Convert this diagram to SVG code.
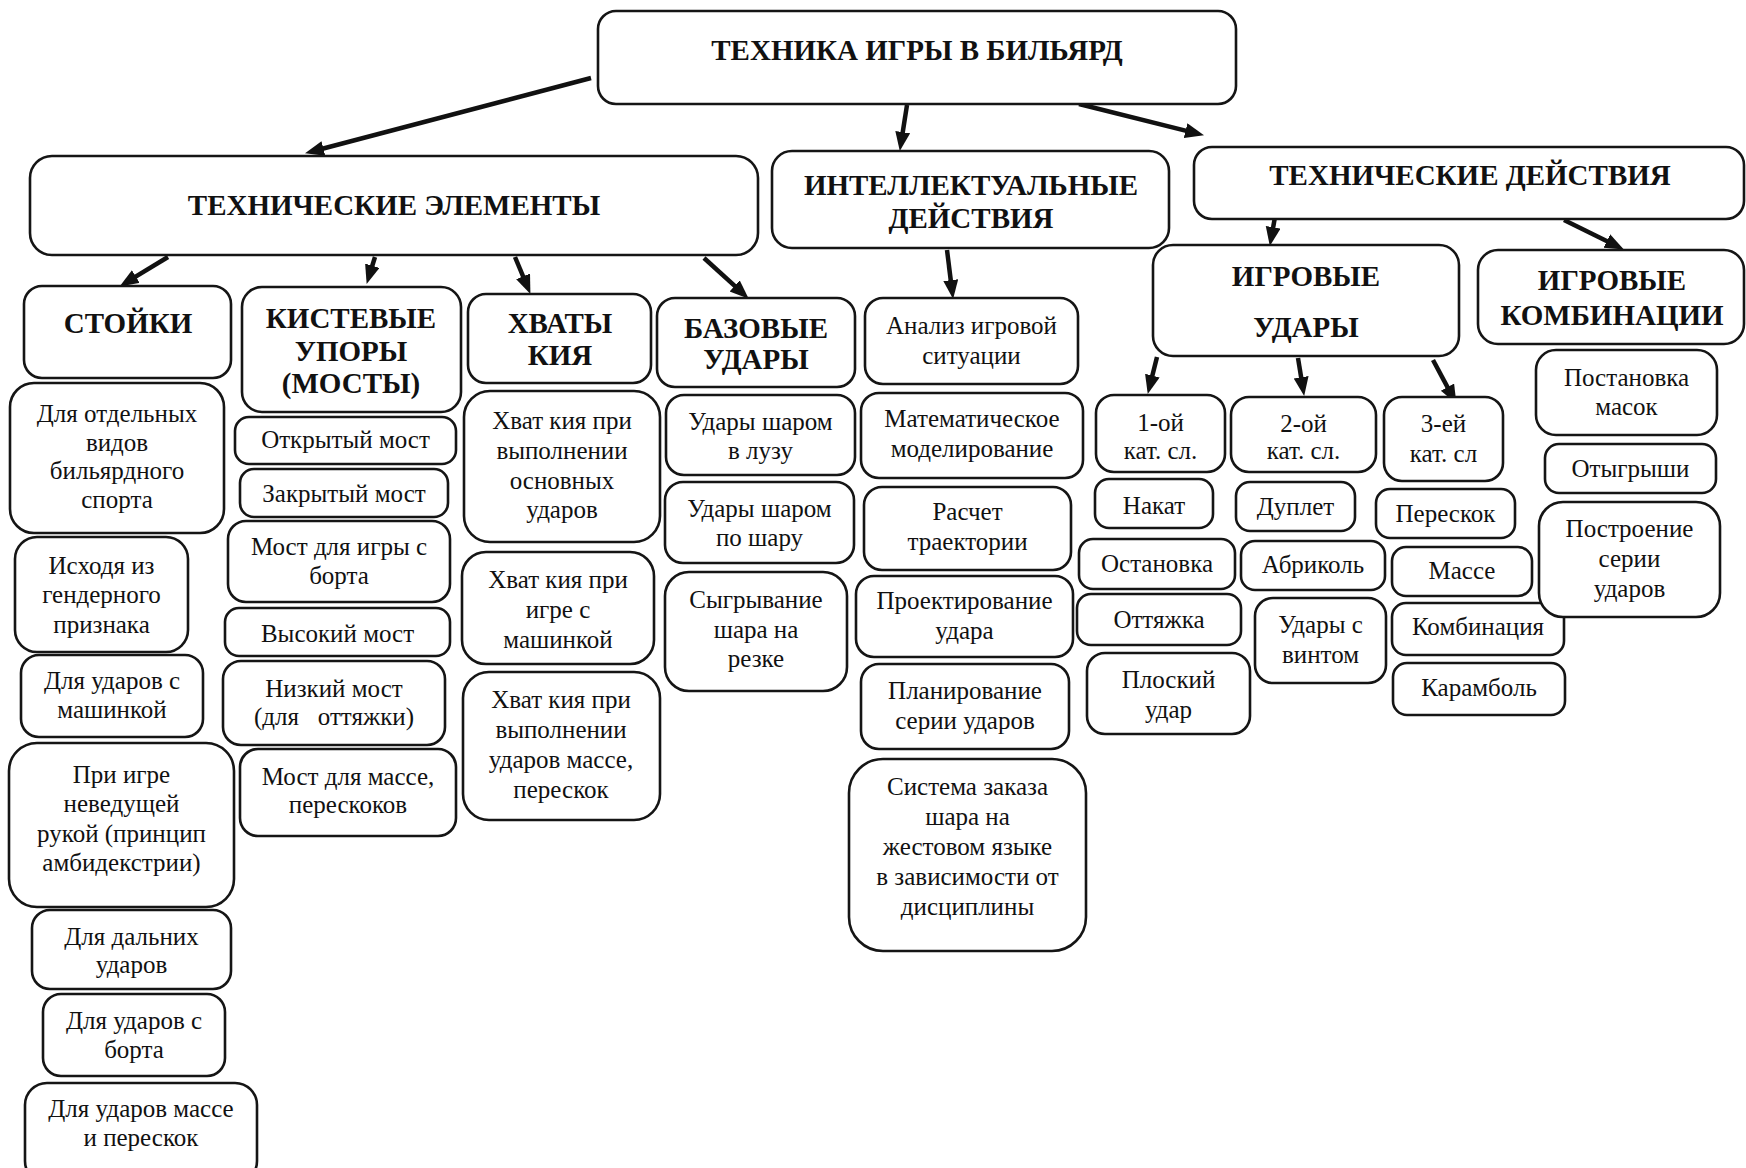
<svg xmlns="http://www.w3.org/2000/svg" width="1746" height="1168" viewBox="0 0 1746 1168">
<style>
  .bg{fill:#fff}
  .box{fill:#fff;stroke:#151515;stroke-width:2.6}
  .h{font-family:"Liberation Serif","Times New Roman",serif;font-weight:bold;font-size:29px;fill:#111;text-anchor:middle}
  .t{font-family:"Liberation Serif","Times New Roman",serif;font-size:25px;fill:#111;text-anchor:middle}
  .c{fill:none;stroke:#111;stroke-width:4.5;marker-end:url(#ah)}
</style>
<defs>
  <marker id="ah" markerUnits="userSpaceOnUse" markerWidth="20" markerHeight="16" refX="6" refY="7.5" orient="auto">
    <path d="M0,0 L19,7.5 L0,15 Z" fill="#111"/>
  </marker>
</defs>
<rect class="bg" x="0" y="0" width="1746" height="1168"/>

<g id="connectors">
  <line class="c" x1="591" y1="78" x2="317.6" y2="150"/>
  <line class="c" x1="907" y1="105" x2="901.8" y2="138.1"/>
  <line class="c" x1="1079" y1="104" x2="1191.4" y2="132.1"/>
  <line class="c" x1="168" y1="257" x2="130.7" y2="279.7"/>
  <line class="c" x1="375" y1="257" x2="370.5" y2="271.5"/>
  <line class="c" x1="515" y1="257" x2="525.4" y2="281.9"/>
  <line class="c" x1="704" y1="258" x2="739.1" y2="289.9"/>
  <line class="c" x1="947" y1="250" x2="951.5" y2="286.1"/>
  <line class="c" x1="1275" y1="217" x2="1272.1" y2="233.2"/>
  <line class="c" x1="1564" y1="220" x2="1612.2" y2="243.7"/>
  <line class="c" x1="1157" y1="357" x2="1150.9" y2="381.4"/>
  <line class="c" x1="1298" y1="358" x2="1302.1" y2="383.2"/>
  <line class="c" x1="1433" y1="360" x2="1450.3" y2="392.4"/>
</g>

<g id="root"><rect class="box" x="598" y="11" width="638" height="93" rx="18"/>
  <text class="h" x="917" y="60">ТЕХНИКА ИГРЫ В БИЛЬЯРД</text></g>

<g id="tech-elements"><rect class="box" x="30" y="156" width="728" height="99" rx="22"/>
  <text class="h" x="394" y="215">ТЕХНИЧЕСКИЕ ЭЛЕМЕНТЫ</text></g>

<g id="intellect"><rect class="box" x="772" y="151" width="397" height="97" rx="20"/>
  <text class="h" x="971"><tspan x="971" y="195">ИНТЕЛЛЕКТУАЛЬНЫЕ</tspan><tspan x="971" y="228">ДЕЙСТВИЯ</tspan></text></g>

<g id="tech-actions"><rect class="box" x="1194" y="147" width="550" height="72" rx="18"/>
  <text class="h" x="1470" y="185">ТЕХНИЧЕСКИЕ ДЕЙСТВИЯ</text></g>

<g id="game-shots"><rect class="box" x="1153" y="245" width="306" height="111" rx="20"/>
  <text class="h"><tspan x="1306" y="286">ИГРОВЫЕ</tspan><tspan x="1306" y="337">УДАРЫ</tspan></text></g>

<g id="game-combos"><rect class="box" x="1478" y="250" width="266" height="94" rx="20"/>
  <text class="h"><tspan x="1612" y="290">ИГРОВЫЕ</tspan><tspan x="1612" y="325">КОМБИНАЦИИ</tspan></text></g>

<g id="stances"><rect class="box" x="24" y="286" width="207" height="92" rx="18"/>
  <text class="h" x="128" y="333">СТОЙКИ</text></g>

<g id="bridges"><rect class="box" x="242" y="287" width="219" height="125" rx="20"/>
  <text class="h"><tspan x="351" y="328">КИСТЕВЫЕ</tspan><tspan x="351" y="361">УПОРЫ</tspan><tspan x="351" y="393">(МОСТЫ)</tspan></text></g>

<g id="grips"><rect class="box" x="468" y="294" width="183" height="89" rx="18"/>
  <text class="h"><tspan x="560" y="333">ХВАТЫ</tspan><tspan x="560" y="365">КИЯ</tspan></text></g>

<g id="basic-shots"><rect class="box" x="657" y="298" width="198" height="89" rx="18"/>
  <text class="h"><tspan x="756" y="338">БАЗОВЫЕ</tspan><tspan x="756" y="369">УДАРЫ</tspan></text></g>

<!-- Stances children -->
<g id="st1"><rect class="box" x="10" y="383" width="214" height="150" rx="24"/>
  <text class="t"><tspan x="117" y="422">Для отдельных</tspan><tspan x="117" y="451">видов</tspan><tspan x="117" y="479">бильярдного</tspan><tspan x="117" y="508">спорта</tspan></text></g>
<g id="st2"><rect class="box" x="15" y="537" width="173" height="115" rx="22"/>
  <text class="t"><tspan x="101.5" y="574">Исходя из</tspan><tspan x="101.5" y="603">гендерного</tspan><tspan x="101.5" y="633">признака</tspan></text></g>
<g id="st3"><rect class="box" x="21" y="655" width="182" height="82" rx="18"/>
  <text class="t"><tspan x="112" y="689">Для ударов с</tspan><tspan x="112" y="718">машинкой</tspan></text></g>
<g id="st4"><rect class="box" x="9" y="743" width="225" height="164" rx="28"/>
  <text class="t"><tspan x="121.5" y="783">При игре</tspan><tspan x="121.5" y="812">неведущей</tspan><tspan x="121.5" y="842">рукой (принцип</tspan><tspan x="121.5" y="871">амбидекстрии)</tspan></text></g>
<g id="st5"><rect class="box" x="32" y="910" width="199" height="79" rx="18"/>
  <text class="t"><tspan x="131.5" y="945">Для дальних</tspan><tspan x="131.5" y="973">ударов</tspan></text></g>
<g id="st6"><rect class="box" x="43" y="994" width="182" height="82" rx="18"/>
  <text class="t"><tspan x="134" y="1029">Для ударов с</tspan><tspan x="134" y="1058">борта</tspan></text></g>
<g id="st7"><rect class="box" x="25" y="1083" width="232" height="100" rx="22"/>
  <text class="t"><tspan x="141" y="1117">Для ударов массе</tspan><tspan x="141" y="1146">и перескок</tspan></text></g>

<!-- Bridges children -->
<g id="br1"><rect class="box" x="235" y="417" width="221" height="47" rx="14"/>
  <text class="t" x="345.5" y="448">Открытый мост</text></g>
<g id="br2"><rect class="box" x="240" y="469" width="208" height="48" rx="14"/>
  <text class="t" x="344" y="502">Закрытый мост</text></g>
<g id="br3"><rect class="box" x="228" y="521" width="222" height="81" rx="18"/>
  <text class="t"><tspan x="339" y="555">Мост для игры с</tspan><tspan x="339" y="584">борта</tspan></text></g>
<g id="br4"><rect class="box" x="225" y="608" width="225" height="48" rx="14"/>
  <text class="t" x="337.5" y="642">Высокий мост</text></g>
<g id="br5"><rect class="box" x="223" y="661" width="222" height="84" rx="18"/>
  <text class="t" xml:space="preserve"><tspan x="334" y="697">Низкий мост</tspan><tspan x="334" y="725">(для   оттяжки)</tspan></text></g>
<g id="br6"><rect class="box" x="240" y="749" width="216" height="87" rx="18"/>
  <text class="t"><tspan x="348" y="785">Мост для массе,</tspan><tspan x="348" y="813">перескоков</tspan></text></g>

<!-- Grips children -->
<g id="gr1"><rect class="box" x="464" y="391" width="196" height="151" rx="26"/>
  <text class="t"><tspan x="562" y="429">Хват кия при</tspan><tspan x="562" y="459">выполнении</tspan><tspan x="562" y="489">основных</tspan><tspan x="562" y="518">ударов</tspan></text></g>
<g id="gr2"><rect class="box" x="462" y="552" width="192" height="112" rx="24"/>
  <text class="t"><tspan x="558" y="588">Хват кия при</tspan><tspan x="558" y="618">игре с</tspan><tspan x="558" y="648">машинкой</tspan></text></g>
<g id="gr3"><rect class="box" x="463" y="672" width="197" height="148" rx="26"/>
  <text class="t"><tspan x="561" y="708">Хват кия при</tspan><tspan x="561" y="738">выполнении</tspan><tspan x="561" y="768">ударов массе,</tspan><tspan x="561" y="798">перескок</tspan></text></g>

<!-- Basic shots children -->
<g id="bs1"><rect class="box" x="666" y="395" width="189" height="80" rx="18"/>
  <text class="t"><tspan x="760.5" y="430">Удары шаром</tspan><tspan x="760.5" y="459">в лузу</tspan></text></g>
<g id="bs2"><rect class="box" x="665" y="482" width="189" height="81" rx="18"/>
  <text class="t"><tspan x="759.5" y="517">Удары шаром</tspan><tspan x="759.5" y="546">по шару</tspan></text></g>
<g id="bs3"><rect class="box" x="665" y="572" width="182" height="119" rx="24"/>
  <text class="t"><tspan x="756" y="608">Сыгрывание</tspan><tspan x="756" y="638">шара на</tspan><tspan x="756" y="667">резке</tspan></text></g>

<!-- Intellectual children -->
<g id="in1"><rect class="box" x="865" y="298" width="213" height="86" rx="18"/>
  <text class="t"><tspan x="971.5" y="334">Анализ игровой</tspan><tspan x="971.5" y="364">ситуации</tspan></text></g>
<g id="in2"><rect class="box" x="861" y="393" width="222" height="85" rx="18"/>
  <text class="t"><tspan x="972" y="427">Математическое</tspan><tspan x="972" y="457">моделирование</tspan></text></g>
<g id="in3"><rect class="box" x="864" y="487" width="207" height="83" rx="18"/>
  <text class="t"><tspan x="967.5" y="520">Расчет</tspan><tspan x="967.5" y="550">траектории</tspan></text></g>
<g id="in4"><rect class="box" x="856" y="576" width="217" height="81" rx="18"/>
  <text class="t"><tspan x="964.5" y="609">Проектирование</tspan><tspan x="964.5" y="639">удара</tspan></text></g>
<g id="in5"><rect class="box" x="861" y="664" width="208" height="85" rx="18"/>
  <text class="t"><tspan x="965" y="699">Планирование</tspan><tspan x="965" y="729">серии ударов</tspan></text></g>
<g id="in6"><rect class="box" x="849" y="759" width="237" height="192" rx="34"/>
  <text class="t"><tspan x="967.5" y="795">Система заказа</tspan><tspan x="967.5" y="825">шара на</tspan><tspan x="967.5" y="855">жестовом языке</tspan><tspan x="967.5" y="885">в зависимости от</tspan><tspan x="967.5" y="915">дисциплины</tspan></text></g>

<!-- Game shots children -->
<g id="cat1"><rect class="box" x="1096" y="395" width="129" height="77" rx="18"/>
  <text class="t"><tspan x="1160.5" y="431">1-ой</tspan><tspan x="1160.5" y="459">кат. сл.</tspan></text></g>
<g id="cat2"><rect class="box" x="1231" y="397" width="145" height="75" rx="18"/>
  <text class="t"><tspan x="1303.5" y="432">2-ой</tspan><tspan x="1303.5" y="459">кат. сл.</tspan></text></g>
<g id="cat3"><rect class="box" x="1384" y="397" width="119" height="84" rx="18"/>
  <text class="t"><tspan x="1443.5" y="432">3-ей</tspan><tspan x="1443.5" y="462">кат. сл</tspan></text></g>
<g id="c1a"><rect class="box" x="1095" y="479" width="118" height="49" rx="14"/>
  <text class="t" x="1154" y="514">Накат</text></g>
<g id="c1b"><rect class="box" x="1079" y="539" width="156" height="50" rx="14"/>
  <text class="t" x="1157" y="572">Остановка</text></g>
<g id="c1c"><rect class="box" x="1077" y="594" width="164" height="51" rx="14"/>
  <text class="t" x="1159" y="628">Оттяжка</text></g>
<g id="c1d"><rect class="box" x="1087" y="653" width="163" height="81" rx="18"/>
  <text class="t"><tspan x="1168.5" y="688">Плоский</tspan><tspan x="1168.5" y="718">удар</tspan></text></g>
<g id="c2a"><rect class="box" x="1236" y="482" width="119" height="49" rx="14"/>
  <text class="t" x="1295.5" y="515">Дуплет</text></g>
<g id="c2b"><rect class="box" x="1241" y="541" width="144" height="49" rx="14"/>
  <text class="t" x="1313" y="573">Абриколь</text></g>
<g id="c2c"><rect class="box" x="1255" y="598" width="131" height="85" rx="18"/>
  <text class="t"><tspan x="1320.5" y="633">Удары с</tspan><tspan x="1320.5" y="663">винтом</tspan></text></g>
<g id="c3a"><rect class="box" x="1376" y="489" width="139" height="49" rx="14"/>
  <text class="t" x="1445.5" y="522">Перескок</text></g>
<g id="c3b"><rect class="box" x="1392" y="547" width="140" height="49" rx="14"/>
  <text class="t" x="1462" y="579">Массе</text></g>
<g id="c3c"><rect class="box" x="1392" y="603" width="172" height="52" rx="14"/>
  <text class="t" x="1478" y="635">Комбинация</text></g>
<g id="c3d"><rect class="box" x="1393" y="663" width="172" height="52" rx="14"/>
  <text class="t" x="1479" y="696">Карамболь</text></g>

<!-- Game combos children -->
<g id="cb1"><rect class="box" x="1536" y="350" width="181" height="85" rx="20"/>
  <text class="t"><tspan x="1626.5" y="386">Постановка</tspan><tspan x="1626.5" y="415">масок</tspan></text></g>
<g id="cb2"><rect class="box" x="1545" y="444" width="171" height="49" rx="14"/>
  <text class="t" x="1630.5" y="477">Отыгрыши</text></g>
<g id="cb3"><rect class="box" x="1539" y="502" width="181" height="115" rx="24"/>
  <text class="t"><tspan x="1629.5" y="537">Построение</tspan><tspan x="1629.5" y="567">серии</tspan><tspan x="1629.5" y="597">ударов</tspan></text></g>
</svg>
